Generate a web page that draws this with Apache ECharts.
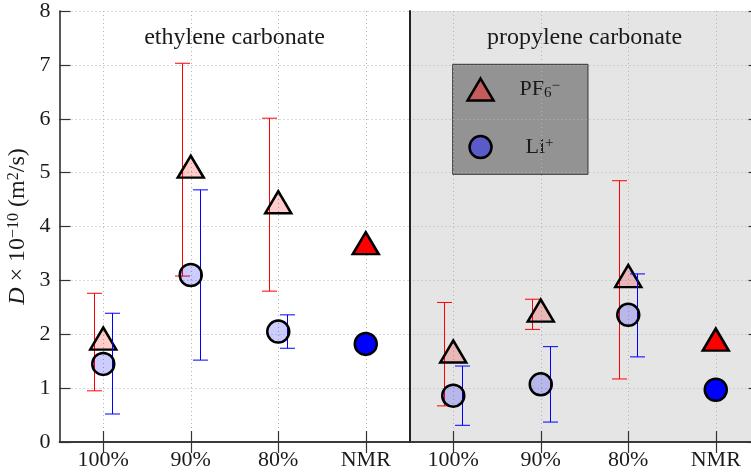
<!DOCTYPE html>
<html><head><meta charset="utf-8">
<script src="https://cdn.jsdelivr.net/npm/echarts@6/dist/echarts.min.js"></script>
<style>html,body{margin:0;padding:0;background:#fff;overflow:hidden;width:751px;height:475px}#c{width:760px;height:475px}</style>
</head><body><div id="c"></div>
<script>
// ---- data ----
const categories = ['100%', '90%', '80%', 'NMR'];
const panelTitles = ['ethylene carbonate', 'propylene carbonate'];
const yTicks = [0, 1, 2, 3, 4, 5, 6, 7, 8];
// ethylene carbonate (simulation: 100%, 90%, 80%)
const ecPF6 = [1.92, 5.11, 4.45];
const ecPF6Low = [0.95, 3.08, 2.80];
const ecPF6High = [2.76, 7.03, 6.01];
const ecLi = [1.45, 3.10, 2.05];
const ecLiLow = [0.52, 1.52, 1.74];
const ecLiHigh = [2.39, 4.68, 2.36];
const ecNmrPF6 = [3.69];
const ecNmrLi = [1.82];
// propylene carbonate
const pcPF6 = [1.68, 2.44, 3.08];
const pcPF6Low = [0.67, 2.09, 1.17];
const pcPF6High = [2.59, 2.65, 4.85];
const pcLi = [0.86, 1.07, 2.36];
const pcLiLow = [0.31, 0.37, 1.58];
const pcLiHigh = [1.41, 1.77, 3.12];
const pcNmrPF6 = [1.90];
const pcNmrLi = [0.97];

// ---- styling ----
const FONT = '"Liberation Serif", "DejaVu Serif", serif';
const TXT = '#1a1a1a';
const gridLine = { show: true, alignWithLabel: true, lineStyle: { color: '#b3b3b3', type: [1, 3], width: 1 } };
const ySplit = { show: true, lineStyle: { color: '#b3b3b3', type: [1, 3], width: 1 } };

function pts(arr, start) { return arr.map((v, i) => [start + i, v]); }
function bars(lo, hi) { return lo.map((l, i) => [i, l, hi[i]]); }

function errRender(offset, color) {
  return function (params, api) {
    const x = api.value(0), lo = api.value(1), hi = api.value(2);
    const pLo = api.coord([x, lo]), pHi = api.coord([x, hi]);
    const cx = Math.round(pLo[0] + offset) + 0.5;
    const h = 7.5;
    const st = { stroke: color, lineWidth: 1 };
    return { type: 'group', children: [
      { type: 'line', shape: { x1: cx, y1: pHi[1], x2: cx, y2: pLo[1] }, style: st },
      { type: 'line', shape: { x1: cx - h, y1: pHi[1], x2: cx + h, y2: pHi[1] }, style: st },
      { type: 'line', shape: { x1: cx - h, y1: pLo[1], x2: cx + h, y2: pLo[1] }, style: st }
    ]};
  };
}

const triStyle = (fill) => ({ color: fill, borderColor: '#000', borderWidth: 2.5, borderJoin: 'miter', borderMiterLimit: 10, opacity: 1 });
const circStyle = (fill) => ({ color: fill, borderColor: '#000', borderWidth: 2.5, opacity: 1 });
const TRI = [26, 22], CIRC = 22;

function panelSeries(g, PF6, PF6Lo, PF6Hi, Li, LiLo, LiHi, nPF6, nLi) {
  return [
    { type: 'custom', xAxisIndex: g * 2, yAxisIndex: g * 2, z: 2, silent: true,
      renderItem: errRender(-9, '#ff0000'), data: bars(PF6Lo, PF6Hi) },
    { name: 'PF6', type: 'scatter', xAxisIndex: g * 2, yAxisIndex: g * 2, z: 3,
      symbol: 'triangle', symbolSize: TRI, itemStyle: triStyle('rgba(255,0,0,0.2)'), data: pts(PF6, 0) },
    { type: 'custom', xAxisIndex: g * 2, yAxisIndex: g * 2, z: 4, silent: true,
      renderItem: errRender(9, '#0000ff'), data: bars(LiLo, LiHi) },
    { name: 'Li', type: 'scatter', xAxisIndex: g * 2, yAxisIndex: g * 2, z: 5,
      symbol: 'circle', symbolSize: CIRC, itemStyle: circStyle('rgba(0,0,255,0.2)'), data: pts(Li, 0) },
    { name: 'PF6', type: 'scatter', xAxisIndex: g * 2, yAxisIndex: g * 2, z: 5,
      symbol: 'triangle', symbolSize: TRI, itemStyle: triStyle('#ff0000'), data: pts(nPF6, 3) },
    { name: 'Li', type: 'scatter', xAxisIndex: g * 2, yAxisIndex: g * 2, z: 5,
      symbol: 'circle', symbolSize: CIRC, itemStyle: circStyle('#0000ff'), data: pts(nLi, 3) }
  ];
}

function xBottom(g) {
  return { type: 'category', gridIndex: g, position: 'bottom', data: categories, boundaryGap: true, z: 1,
    axisLine: { show: true, lineStyle: { color: '#222', width: 1.5 } },
    axisTick: { show: true, inside: true, length: 11, alignWithLabel: true, lineStyle: { color: '#333', width: 1.2 } },
    axisLabel: { show: true, margin: 7, color: TXT, fontFamily: FONT, fontSize: 22 },
    splitLine: gridLine };
}
function xTop(g) {
  return { type: 'category', gridIndex: g, position: 'top', data: categories, boundaryGap: true, z: 1,
    axisLine: { show: true, lineStyle: { color: '#333', width: 1.5 } },
    axisTick: { show: true, inside: true, length: 11, alignWithLabel: true, lineStyle: { color: '#333', width: 1.2 } },
    axisLabel: { show: false }, splitLine: { show: false } };
}
function yAxisDef(g, pos, opts) {
  return Object.assign({ type: 'value', gridIndex: g, position: pos, min: yTicks[0], max: yTicks[yTicks.length - 1], interval: 1, z: 1,
    axisLine: { show: true, lineStyle: { color: '#222', width: 1.5 } },
    axisTick: { show: true, inside: true, length: 11, lineStyle: { color: '#333', width: 1.2 } },
    axisLabel: { show: false }, splitLine: { show: false } }, opts);
}

const chart = echarts.init(document.getElementById('c'), null, { renderer: 'canvas' });
chart.setOption({
  animation: false,
  backgroundColor: '#ffffff',
  grid: [
    { left: 59.5, top: 11, width: 350, height: 431, containLabel: false },
    { left: 409.5, top: 11, width: 350, height: 431, containLabel: false, show: true, backgroundColor: '#e5e5e5', borderWidth: 0 }
  ],
  xAxis: [xBottom(0), xTop(0), xBottom(1), xTop(1)],
  yAxis: [
    yAxisDef(0, 'left', {
      axisLabel: { show: true, margin: 9, color: TXT, fontFamily: FONT, fontSize: 22, formatter: v => String(v) },
      splitLine: ySplit,
      name: '{i|D} × 10{s|−10} (m{s|2}/s)', nameLocation: 'middle', nameRotate: 90, nameGap: 30,
      nameTextStyle: { color: TXT, fontFamily: FONT, fontSize: 24, rich: {
        i: { fontStyle: 'italic', fontFamily: FONT, fontSize: 24, color: TXT },
        s: { fontFamily: FONT, fontSize: 16, color: TXT, verticalAlign: 'top', lineHeight: 16 }
      } }
    }),
    yAxisDef(0, 'right', { axisLine: { show: false }, axisTick: { show: false } }),
    yAxisDef(1, 'left', { axisTick: { show: false }, splitLine: ySplit, axisLine: { show: true, lineStyle: { color: '#222', width: 2 } } }),
    yAxisDef(1, 'right', {})
  ],
  legend: {
    orient: 'vertical', left: 452.7, top: 64.3, z: 0.5,
    selectedMode: false, symbolKeepAspect: false,
    backgroundColor: 'rgba(0,0,0,0.355)', borderColor: '#333', borderWidth: 1, borderRadius: 0,
    padding: [13, 28, 15, 13.6], itemGap: 33, itemWidth: 26, itemHeight: 22,
    data: [
      { name: 'PF6', icon: 'triangle', itemStyle: { color: '#c45c5c', borderColor: '#000', borderWidth: 2.5, borderJoin: 'miter', borderMiterLimit: 10, opacity: 1 } },
      { name: 'Li', icon: 'circle', itemStyle: { color: '#5a5ac8', borderColor: '#000', borderWidth: 2.5, opacity: 1 } }
    ],
    formatter: n => n === 'PF6' ? '{pf|PF}{sub|6}{sup|−}' : '{li|Li}{sup|+}',
    textStyle: { color: TXT, fontFamily: FONT, fontSize: 22, rich: {
      pf: { fontFamily: FONT, fontSize: 22, lineHeight: 22, color: TXT, padding: [0, 0, 0, 21] },
      li: { fontFamily: FONT, fontSize: 22, lineHeight: 22, color: TXT, padding: [0, 0, 0, 27] },
      sub: { fontFamily: FONT, fontSize: 15, lineHeight: 15, color: TXT, verticalAlign: 'bottom' },
      sup: { fontFamily: FONT, fontSize: 15, lineHeight: 15, color: TXT, verticalAlign: 'top' }
    } }
  },
  graphic: [
    { type: 'text', x: 234.5, y: 38, z: 10, style: { text: panelTitles[0], fontFamily: FONT, fontSize: 24, fill: TXT, align: 'center', verticalAlign: 'middle' } },
    { type: 'text', x: 584.5, y: 38, z: 10, style: { text: panelTitles[1], fontFamily: FONT, fontSize: 24, fill: TXT, align: 'center', verticalAlign: 'middle' } }
  ],
  series: [].concat(
    panelSeries(0, ecPF6, ecPF6Low, ecPF6High, ecLi, ecLiLow, ecLiHigh, ecNmrPF6, ecNmrLi),
    panelSeries(1, pcPF6, pcPF6Low, pcPF6High, pcLi, pcLiLow, pcLiHigh, pcNmrPF6, pcNmrLi)
  )
});
</script></body></html>
